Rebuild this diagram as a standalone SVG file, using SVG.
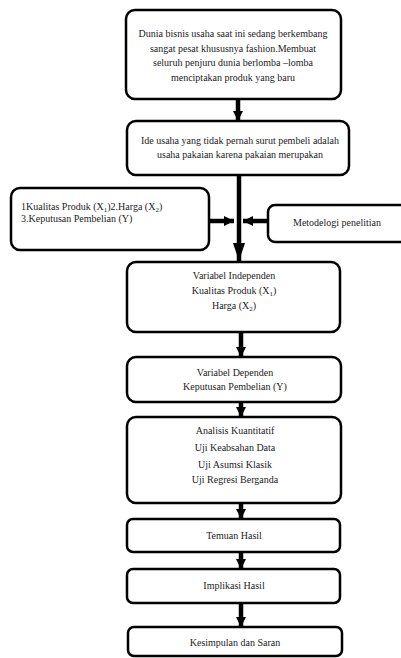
<svg xmlns="http://www.w3.org/2000/svg" width="401" height="658" viewBox="0 0 401 658">
<style>
.box{fill:#fff;stroke:#000;stroke-width:2.5}
.t{font-family:"Liberation Serif","Times New Roman",serif;font-size:10px;fill:#222}
.m{text-anchor:middle}
.ar{stroke:#000;stroke-width:4.5;fill:none}
.sub{font-size:7px}
</style>
<defs>
<marker id="ah" markerUnits="userSpaceOnUse" markerWidth="12" markerHeight="10" refX="10" refY="5" orient="auto">
<path d="M0,0 L10,5 L0,10 z" fill="#000"/>
</marker>
<marker id="big" markerUnits="userSpaceOnUse" markerWidth="20" markerHeight="14" refX="18" refY="6" orient="auto">
<path d="M0,0 L18,6 L0,12 z" fill="#000"/>
</marker>
</defs>
<g id="connectors">
<line class="ar" x1="238" y1="99" x2="238" y2="121" marker-end="url(#ah)"/>
<line class="ar" x1="239" y1="175" x2="239" y2="261" marker-end="url(#big)"/>
<line class="ar" x1="209" y1="221" x2="234" y2="221" marker-end="url(#ah)"/>
<line class="ar" x1="268" y1="221" x2="243" y2="221" marker-end="url(#ah)"/>
<line class="ar" x1="241" y1="332" x2="241" y2="357" marker-end="url(#ah)"/>
<line class="ar" x1="241" y1="402" x2="241" y2="417" marker-end="url(#ah)"/>
<line class="ar" x1="241" y1="503" x2="241" y2="519" marker-end="url(#ah)"/>
<line class="ar" x1="241" y1="552" x2="241" y2="569" marker-end="url(#ah)"/>
<line class="ar" x1="241" y1="603" x2="241" y2="627" marker-end="url(#ah)"/>
</g>
<g id="n1">
<rect class="box" x="126" y="10" width="215" height="89" rx="9"/>
<text class="t m" x="233" y="37">Dunia bisnis usaha saat ini sedang berkembang</text>
<text class="t m" x="233" y="52">sangat pesat khususnya fashion.Membuat</text>
<text class="t m" x="233" y="66">seluruh penjuru dunia berlomba –lomba</text>
<text class="t m" x="233" y="81">menciptakan produk yang baru</text>
</g>
<g id="n2">
<rect class="box" x="127" y="121" width="222" height="54" rx="9"/>
<text class="t m" x="240" y="144">Ide usaha yang tidak pernah surut pembeli adalah</text>
<text class="t m" x="240" y="158">usaha pakaian karena pakaian  merupakan</text>
</g>
<g id="n_left">
<rect class="box" x="11" y="188" width="198" height="62" rx="9"/>
<text class="t" x="21" y="210">1Kualitas Produk (X<tspan class="sub" dy="2">1</tspan><tspan dy="-2">)2.Harga (X</tspan><tspan class="sub" dy="2">2</tspan><tspan dy="-2">)</tspan></text>
<text class="t" x="21" y="222">3.Keputusan Pembelian (Y)</text>
</g>
<g id="n_right">
<rect class="box" x="268" y="205" width="140" height="37" rx="7"/>
<text class="t" x="293" y="226">Metodelogi penelitian</text>
</g>
<g id="n3">
<rect class="box" x="127" y="262" width="213" height="70" rx="9"/>
<text class="t m" x="234" y="279">Variabel Independen</text>
<text class="t m" x="234" y="294">Kualitas Produk (X<tspan class="sub" dy="2">1</tspan><tspan dy="-2">)</tspan></text>
<text class="t m" x="234" y="309">Harga (X<tspan class="sub" dy="2">2</tspan><tspan dy="-2">)</tspan></text>
</g>
<g id="n4">
<rect class="box" x="127" y="357" width="214" height="45" rx="9"/>
<text class="t m" x="235" y="376">Variabel Dependen</text>
<text class="t m" x="235" y="390">Keputusan Pembelian (Y)</text>
</g>
<g id="n5">
<rect class="box" x="127" y="417" width="214" height="86" rx="9"/>
<text class="t m" x="235" y="434">Analisis Kuantitatif</text>
<text class="t m" x="235" y="451">Uji Keabsahan Data</text>
<text class="t m" x="235" y="468">Uji Asumsi Klasik</text>
<text class="t m" x="235" y="483">Uji Regresi Berganda</text>
</g>
<g id="n6">
<rect class="box" x="127" y="519" width="213" height="33" rx="6"/>
<text class="t m" x="234" y="539">Temuan Hasil</text>
</g>
<g id="n7">
<rect class="box" x="127" y="569" width="213" height="34" rx="6"/>
<text class="t m" x="234" y="589">Implikasi Hasil</text>
</g>
<g id="n8">
<rect class="box" x="128" y="627" width="214" height="29" rx="6"/>
<text class="t m" x="235" y="646">Kesimpulan dan Saran</text>
</g>
</svg>
